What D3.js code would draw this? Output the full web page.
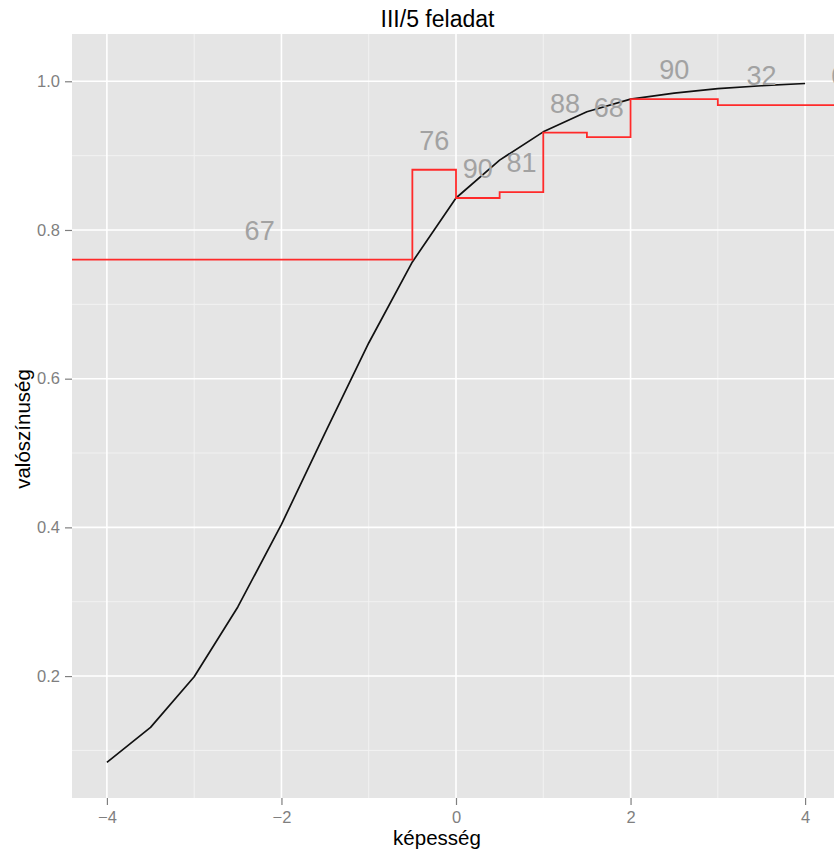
<!DOCTYPE html>
<html>
<head>
<meta charset="utf-8">
<script src="https://cdn.jsdelivr.net/npm/d3@7"></script>
<style>
  html, body { margin: 0; padding: 0; background: #ffffff; }
  svg { display: block; }
  text { font-family: "Liberation Sans", Arial, Helvetica, sans-serif; }
</style>
</head>
<body>
<script>
// ---- data ----
const curveX = [-4, -3.5, -3, -2.5, -2, -1.5, -1, -0.5, 0, 0.5, 1, 1.5, 2, 2.5, 3, 3.5, 4];
const curveP = [0.084, 0.131, 0.199, 0.293, 0.404, 0.527, 0.648, 0.757, 0.843, 0.894, 0.932, 0.959, 0.976, 0.984, 0.990, 0.994, 0.997];

const stepBreaks = [-4.4, -0.5, 0, 0.5, 1, 1.5, 2, 3, 4.4];
const stepLevels = [0.760, 0.881, 0.843, 0.851, 0.931, 0.925, 0.976, 0.968];

const labelText = ["67", "76", "90", "81", "88", "68", "90", "32", "60"];
const labelX = [-2.25, -0.25, 0.25, 0.75, 1.25, 1.75, 2.5, 3.5, 4.47];
const labelY = [0.799, 0.920, 0.882, 0.890, 0.970, 0.964, 1.015, 1.007, 1.007];

const xTicks = [-4, -2, 0, 2, 4];
const xMinor = [-3, -1, 1, 3];
const yTicks = [0.2, 0.4, 0.6, 0.8, 1.0];
const yMinor = [0.1, 0.3, 0.5, 0.7, 0.9];

const titleText = "III/5 feladat";
const xTitle = "képesség";
const yTitle = "valószínuség";

// ---- layout ----
const W = 834, H = 854;
const pL = 72, pT = 34, pR = 840, pB = 798;

const svg = d3.select("body").append("svg").attr("width", W).attr("height", H);

const x = d3.scaleLinear().domain([-4.4, 4.4]).range([pL, pR]);
const y = d3.scaleLinear().domain([0.036, 1.0636]).range([pB, pT]);

svg.append("defs").append("clipPath").attr("id", "clip")
  .append("rect").attr("x", pL).attr("y", pT).attr("width", pR - pL).attr("height", pB - pT);

// panel
svg.append("rect").attr("x", pL).attr("y", pT).attr("width", pR - pL).attr("height", pB - pT)
  .attr("fill", "#e5e5e5");

const grid = svg.append("g");
grid.selectAll(".xm").data(xMinor).join("line")
  .attr("x1", d => x(d)).attr("x2", d => x(d)).attr("y1", pT).attr("y2", pB)
  .attr("stroke", "#f2f2f2").attr("stroke-width", 1);
grid.selectAll(".ym").data(yMinor).join("line")
  .attr("y1", d => y(d)).attr("y2", d => y(d)).attr("x1", pL).attr("x2", pR)
  .attr("stroke", "#f2f2f2").attr("stroke-width", 1);
grid.selectAll(".xM").data(xTicks).join("line")
  .attr("x1", d => x(d)).attr("x2", d => x(d)).attr("y1", pT).attr("y2", pB)
  .attr("stroke", "#ffffff").attr("stroke-width", 1.6);
grid.selectAll(".yM").data(yTicks).join("line")
  .attr("y1", d => y(d)).attr("y2", d => y(d)).attr("x1", pL).attr("x2", pR)
  .attr("stroke", "#ffffff").attr("stroke-width", 1.6);

// axes
const xAxis = d3.axisBottom(x).tickValues(xTicks).tickSize(7).tickPadding(6)
  .tickFormat(d => d3.format("")(d).replace("-", "\u2212"));
const gx = svg.append("g").attr("transform", `translate(0,${pB})`).call(xAxis);
gx.select(".domain").remove();
gx.selectAll(".tick line").attr("stroke", "#7f7f7f").attr("stroke-width", 1.2);
gx.selectAll(".tick text").attr("fill", "#7f7f7f").attr("font-size", "16.5px")
  .attr("font-family", "Liberation Sans, Arial, sans-serif");

const yAxis = d3.axisLeft(y).tickValues(yTicks).tickSize(7).tickPadding(5)
  .tickFormat(d3.format(".1f"));
const gy = svg.append("g").attr("transform", `translate(${pL},0)`).call(yAxis);
gy.select(".domain").remove();
gy.selectAll(".tick line").attr("stroke", "#7f7f7f").attr("stroke-width", 1.2);
gy.selectAll(".tick text").attr("fill", "#7f7f7f").attr("font-size", "16.5px")
  .attr("font-family", "Liberation Sans, Arial, sans-serif");

// data layers
const plot = svg.append("g").attr("clip-path", "url(#clip)");

const curvePts = curveX.map((v, i) => [v, curveP[i]]);
plot.append("path").datum(curvePts)
  .attr("fill", "none").attr("stroke", "#111111").attr("stroke-width", 1.7)
  .attr("stroke-linejoin", "round")
  .attr("d", d3.line().x(d => x(d[0])).y(d => y(d[1])));

const stepPts = stepBreaks.map((b, i) => [b, stepLevels[Math.min(i, stepLevels.length - 1)]]);
plot.append("path").datum(stepPts)
  .attr("fill", "none").attr("stroke", "#ff2a2a").attr("stroke-width", 1.8)
  .attr("d", d3.line().curve(d3.curveStepAfter).x(d => x(d[0])).y(d => y(d[1])));

plot.selectAll(".lab").data(labelText).join("text")
  .attr("x", (d, i) => x(labelX[i])).attr("y", (d, i) => y(labelY[i]))
  .attr("text-anchor", "middle").attr("dominant-baseline", "central")
  .attr("font-size", "27px").attr("fill", "#a2a2a2")
  .text(d => d);

// titles
svg.append("text").attr("x", 437.5).attr("y", 27).attr("text-anchor", "middle")
  .attr("font-size", "23px").attr("fill", "#000").text(titleText);
svg.append("text").attr("x", 437).attr("y", 845).attr("text-anchor", "middle")
  .attr("font-size", "20.5px").attr("fill", "#000").text(xTitle);
svg.append("text").attr("transform", "translate(30,429) rotate(-90)")
  .attr("text-anchor", "middle").attr("font-size", "20.5px").attr("fill", "#000").text(yTitle);
</script>
</body>
</html>
